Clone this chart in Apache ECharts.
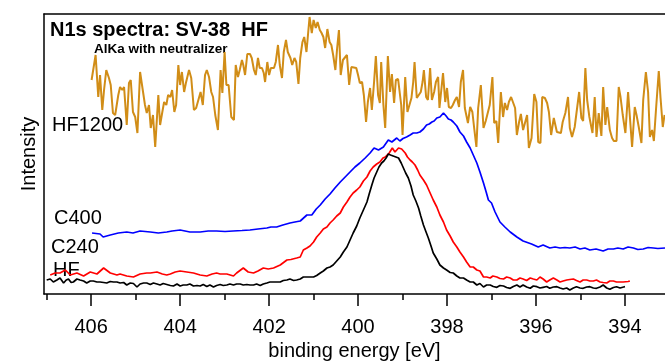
<!DOCTYPE html>
<html>
<head>
<meta charset="utf-8">
<script src="https://cdn.jsdelivr.net/npm/echarts@6/dist/echarts.min.js"></script>
<style>html,body{margin:0;padding:0;background:#fff;}#c{width:665px;height:361px;}</style>
</head>
<body>
<div id="c"></div>
<script>
const majorTicks = [394, 396, 398, 400, 402, 404, 406];
const minorTicks = [395, 397, 399, 401, 403, 405, 407];

const hf1200E = [405.99,405.90,405.84,405.80,405.75,405.71,405.66,405.60,405.56,405.51,405.46,405.39,405.35,405.30,405.26,405.20,405.15,405.11,405.06,405.01,404.96,404.90,404.83,404.79,404.75,404.70,404.66,404.61,404.56,404.49,404.45,404.40,404.36,404.31,404.27,404.22,404.18,404.13,404.09,404.04,404.00,403.96,403.91,403.87,403.80,403.75,403.69,403.64,403.60,403.54,403.49,403.44,403.40,403.35,403.30,403.26,403.21,403.15,403.09,403.05,403.00,402.96,402.91,402.85,402.79,402.75,402.70,402.66,402.61,402.58,402.54,402.49,402.43,402.39,402.34,402.30,402.25,402.21,402.16,402.12,402.09,402.04,402.00,401.96,401.89,401.85,401.80,401.76,401.71,401.67,401.62,401.58,401.52,401.48,401.43,401.39,401.34,401.30,401.25,401.21,401.16,401.12,401.09,401.04,401.00,400.95,400.91,400.86,400.82,400.78,400.74,400.69,400.64,400.60,400.56,400.51,400.47,400.43,400.39,400.34,400.30,400.25,400.20,400.15,400.11,400.04,400.00,399.96,399.91,399.87,399.82,399.78,399.73,399.69,399.64,399.60,399.55,399.51,399.48,399.43,399.39,399.33,399.28,399.24,399.19,399.15,399.10,399.06,399.03,399.00,398.94,398.89,398.85,398.80,398.76,398.73,398.68,398.64,398.59,398.55,398.52,398.47,398.43,398.38,398.34,398.29,398.25,398.20,398.17,398.13,398.09,398.04,398.00,397.96,397.91,397.87,397.82,397.78,397.73,397.69,397.64,397.60,397.53,397.48,397.43,397.39,397.34,397.30,397.24,397.18,397.13,397.09,397.04,396.98,396.94,396.89,396.85,396.79,396.74,396.70,396.65,396.61,396.56,396.52,396.47,396.43,396.38,396.34,396.29,396.25,396.20,396.16,396.10,396.04,395.99,395.95,395.90,395.86,395.80,395.75,395.71,395.66,395.60,395.53,395.49,395.44,395.40,395.34,395.28,395.24,395.19,395.13,395.09,395.03,394.98,394.94,394.89,394.85,394.80,394.73,394.68,394.64,394.59,394.53,394.49,394.44,394.40,394.34,394.29,394.25,394.19,394.14,394.10,394.05,393.99,393.93,393.89,393.84,393.78,393.74,393.69,393.63,393.59,393.53,393.48,393.44,393.39,393.35,393.30,393.24,393.20,393.15,393.11];
const hf1200I = [214,239,197,219,184,204,224,216,209,181,179,199,207,204,207,169,211,214,182,177,161,222,201,189,181,189,166,179,147,199,169,182,192,189,199,197,204,182,189,229,209,222,202,211,224,216,184,186,186,202,189,219,224,217,202,197,179,164,224,201,242,209,209,177,174,229,217,224,234,229,219,240,240,236,224,219,236,226,226,221,212,232,219,226,226,232,249,229,216,242,254,242,236,229,236,232,210,236,252,257,242,262,277,261,274,266,272,264,261,257,246,265,252,249,239,224,246,264,219,234,236,239,209,227,226,226,219,211,212,199,172,192,206,184,212,238,199,191,232,189,166,238,202,220,191,214,215,214,189,159,217,182,180,196,212,232,196,197,202,212,224,197,194,226,194,202,212,217,186,184,221,192,206,187,186,189,194,197,187,212,224,186,171,187,182,166,147,186,209,166,173,172,189,217,171,173,151,202,177,191,184,192,197,199,186,159,172,180,164,166,179,146,156,200,192,152,151,197,196,191,182,159,176,162,164,161,172,181,197,166,157,167,167,202,176,173,226,194,177,161,197,157,181,158,207,169,187,164,156,153,153,207,197,179,161,202,200,147,187,179,167,151,194,222,202,157,164,153,186,223,196,167,179];

const c400E = [405.98,405.80,405.73,405.57,405.39,405.20,405.06,404.90,404.67,404.49,404.30,404.18,404.00,403.78,403.55,403.37,403.18,402.99,402.81,402.61,402.43,402.25,402.05,401.96,401.83,401.69,401.53,401.42,401.30,401.15,401.04,400.94,400.85,400.74,400.63,400.52,400.40,400.29,400.18,400.07,399.96,399.84,399.73,399.64,399.54,399.43,399.32,399.24,399.13,399.06,398.99,398.91,398.83,398.76,398.68,398.61,398.53,398.46,398.40,398.34,398.29,398.23,398.16,398.08,398.02,397.97,397.91,397.86,397.78,397.71,397.63,397.56,397.48,397.41,397.33,397.26,397.18,397.12,397.07,397.00,396.92,396.81,396.70,396.58,396.43,396.29,396.10,395.95,395.84,395.69,395.57,395.46,395.35,395.24,395.12,395.01,394.90,394.79,394.65,394.49,394.38,394.26,394.16,394.04,393.93,393.81,393.71,393.59,393.48,393.36,393.26,393.10];
const c400I = [61,60,57,59,61,62,61,63,62,61,62,63,64,62,62,63,63,62.5,63,63.5,64,65,66,67,67,69,71,72,73,79,79,85,89,95,100,106,112,117,122,127,131,136,141,146,144,147,154,152,156,153,155.5,157,159,161,161,162,165,169,170,172,173,176,177,181,178,175,174,172,168,162,158,152,146,139,131,122,111,102,94,91,82,72,67,62,57,53,50,47,49,46,47,46,46.5,46,47,45,46,44,45,43,45,45,46,45,47,46,44.5,45,46.5,46,45.5,46];

const c240E = [406.92,406.81,406.70,406.58,406.47,406.32,406.17,406.02,405.87,405.72,405.57,405.42,405.35,405.20,405.05,404.90,404.75,404.67,404.52,404.40,404.30,404.22,404.11,404.00,403.85,403.70,403.55,403.40,403.28,403.18,403.10,402.95,402.80,402.73,402.58,402.47,402.35,402.25,402.13,402.02,401.90,401.75,401.60,401.51,401.38,401.30,401.23,401.15,401.08,401.00,400.93,400.85,400.78,400.70,400.63,400.56,400.48,400.40,400.33,400.25,400.18,400.11,400.03,399.96,399.88,399.80,399.73,399.66,399.58,399.51,399.44,399.39,399.30,399.23,399.17,399.09,399.02,398.94,398.89,398.83,398.78,398.72,398.66,398.61,398.53,398.46,398.38,398.31,398.23,398.16,398.08,398.01,397.93,397.86,397.78,397.71,397.63,397.56,397.48,397.41,397.33,397.26,397.18,397.11,397.03,396.97,396.88,396.81,396.73,396.66,396.58,396.51,396.43,396.36,396.29,396.21,396.13,396.06,395.98,395.91,395.84,395.76,395.69,395.61,395.53,395.46,395.39,395.31,395.24,395.16,395.09,395.01,394.94,394.86,394.79,394.71,394.64,394.56,394.49,394.41,394.34,394.26,394.19,394.11,394.04,394.00,393.93,393.89];
const c240I = [19,21,21,24,19,21,18,22,20,26,21,19,20,18,17,20,21,21,22,20,19,20,22,23,22,21,19,18,20,21,20,20,18,21,26,22,21,23,26,25,26,29,34,34.5,36,37,44,46,48,52,57,61,65,67,71,74,78,81,87,92,97,101,104,107,113,117,123,127,130,132,136,137,141,146,142,146,145,141,137,134,132,129,124,119,114,109,101,94,87,79,72,64,58,52,47,42,37,32,27,27,24,23,17,17,16,18,17,15.5,15,17,16,14,14,16,15,13.5,16,15,14,17,15,12,14,16,14,12,13,14,14.5,15,13.5,12,14,14,13,13,14,12,11.5,11,13,13,12,12,12,11,12.5,13];

const hfE = [407.00,406.92,406.85,406.77,406.70,406.62,406.56,406.51,406.45,406.40,406.32,406.25,406.17,406.10,406.02,405.95,405.87,405.80,405.72,405.65,405.57,405.50,405.42,405.35,405.27,405.20,405.12,405.05,404.97,404.90,404.82,404.75,404.67,404.60,404.52,404.45,404.38,404.30,404.22,404.15,404.07,404.00,403.93,403.85,403.78,403.70,403.62,403.55,403.48,403.40,403.33,403.25,403.18,403.10,403.03,402.95,402.88,402.80,402.73,402.65,402.58,402.50,402.43,402.35,402.28,402.20,402.13,402.05,401.98,401.90,401.83,401.75,401.68,401.60,401.53,401.45,401.38,401.30,401.23,401.15,401.08,401.00,400.93,400.85,400.78,400.70,400.63,400.56,400.48,400.40,400.33,400.25,400.18,400.11,400.03,399.96,399.88,399.80,399.75,399.69,399.64,399.58,399.53,399.47,399.42,399.37,399.32,399.27,399.21,399.15,399.09,399.03,398.98,398.93,398.87,398.81,398.76,398.70,398.64,398.59,398.53,398.48,398.42,398.36,398.31,398.23,398.16,398.08,398.01,397.93,397.86,397.78,397.71,397.63,397.56,397.48,397.41,397.33,397.26,397.18,397.11,397.03,396.96,396.88,396.81,396.73,396.66,396.58,396.51,396.43,396.36,396.29,396.21,396.13,396.06,395.98,395.91,395.84,395.76,395.69,395.61,395.53,395.46,395.39,395.31,395.24,395.16,395.09,395.01,394.94,394.86,394.79,394.71,394.64,394.56,394.49,394.41,394.34,394.26,394.19,394.11,394.07,394.03,394.00];
const hfI = [14,15,12,14,16,11,14,15,11.5,12,15,14,13,11,13,13,12,12,11.5,11,12.5,12,12,11,11.5,9,11,10.5,7,10,11,11,9.5,11,10,9,10.5,9.5,8.5,8,10,8,9,9,10,8,8.5,8,9.5,7.5,9,7,8.5,9.5,8.5,9,10,9,10,10,9,9.5,9,9,10,8.5,10,11,12,12,12,12,13.5,14,15,13.5,14,15,17,17,17,17,18.5,21,23,26,27,29,33,37,42,47,54,61,68,76,84,92,100,109,116,122,127,131,133,136,140,139,138,137,136,131,126,121,116,108,99,93,86,78,69,63,56,48,41,35,29,26,24,21.5,21,18,16,16,14,12,12,9,10.5,7,9,9,7.5,6.7,8.5,8,6.5,5.7,7.5,9,7,9,7,5.7,8,7.3,6,6.7,7.5,5.7,7,7.3,6,5,6,4,6,7.3,6,5.7,7,7.3,6,5.7,7,9,6,4.7,6.5,7.3,6,8,7,7.3];

const FONT = "'Liberation Sans', Arial, sans-serif";
function zip(e, v) { const n = Math.min(e.length, v.length); const out = []; for (let i = 0; i < n; i++) out.push([e[i], v[i]]); return out; }

const X_MIN = 393.1, X_MAX = 407.06;
function lineSeries(name, e, v, color, w) {
  return { name: name, type: 'line', data: zip(e, v), showSymbol: false, symbol: 'none',
    lineStyle: { color: color, width: w }, itemStyle: { color: color }, clip: true, animation: false };
}

const chart = echarts.init(document.getElementById('c'), null, { renderer: 'canvas' });
chart.setOption({
  backgroundColor: '#ffffff',
  animation: false,
  grid: { left: 44, right: 0, top: 14, bottom: 67, containLabel: false, outerBoundsMode: 'none' },
  xAxis: [
    { type: 'value', position: 'bottom', inverse: true, min: X_MIN, max: X_MAX,
      name: 'binding energy [eV]', nameLocation: 'middle', nameGap: 42,
      nameTextStyle: { fontSize: 20, color: '#000', fontFamily: FONT },
      axisLine: { show: true, onZero: false, lineStyle: { color: '#000', width: 1.5 } },
      axisTick: { show: true, inside: false, length: 12, lineStyle: { color: '#000', width: 1.5 }, customValues: majorTicks },
      axisLabel: { show: true, fontSize: 20, color: '#000', fontFamily: FONT, margin: 23, customValues: majorTicks },
      splitLine: { show: false } },
    { type: 'value', position: 'bottom', inverse: true, min: X_MIN, max: X_MAX,
      axisLine: { show: false, onZero: false },
      axisTick: { show: true, inside: false, length: 6, lineStyle: { color: '#000', width: 1.5 }, customValues: minorTicks },
      axisLabel: { show: false }, splitLine: { show: false } },
    { type: 'value', position: 'top', inverse: true, min: X_MIN, max: X_MAX,
      axisLine: { show: true, onZero: false, lineStyle: { color: '#000', width: 1.5 } },
      axisTick: { show: false }, axisLabel: { show: false }, splitLine: { show: false } }
  ],
  yAxis: { type: 'value', min: 0, max: 280,
    name: 'Intensity', nameLocation: 'middle', nameGap: 5,
    nameTextStyle: { fontSize: 20, color: '#000', fontFamily: FONT },
    axisLine: { show: true, onZero: false, lineStyle: { color: '#000', width: 1.5 } },
    axisTick: { show: false }, axisLabel: { show: false }, splitLine: { show: false } },
  series: [
    lineSeries('C400', c400E, c400I, '#0000FF', 1.7),
    lineSeries('C240', c240E, c240I, '#FF0000', 1.7),
    lineSeries('HF', hfE, hfI, '#000000', 1.7),
    lineSeries('HF1200', hf1200E, hf1200I, '#D18D17', 2)
  ],
  graphic: [
    { type: 'text', left: 50, top: 20, style: { text: 'N1s spectra: SV-38  HF', font: "bold 20px " + FONT, fill: '#000' } },
    { type: 'text', left: 94, top: 42, style: { text: 'AlKa with neutralizer', font: "bold 13.5px " + FONT, fill: '#000' } },
    { type: 'text', left: 52, top: 115, style: { text: 'HF1200', font: "20px " + FONT, fill: '#000' } },
    { type: 'text', left: 54, top: 208, style: { text: 'C400', font: "20px " + FONT, fill: '#000' } },
    { type: 'text', left: 51, top: 237, style: { text: 'C240', font: "20px " + FONT, fill: '#000' } },
    { type: 'text', left: 53, top: 260, style: { text: 'HF', font: "20px " + FONT, fill: '#000' } }
  ]
});
</script>
</body>
</html>
